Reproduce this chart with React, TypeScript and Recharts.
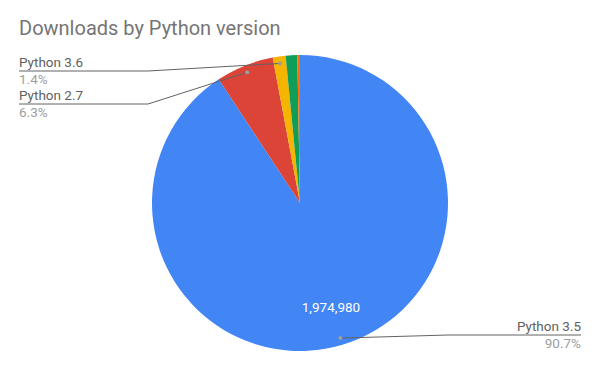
import React from "react"
import { Pie, PieChart } from "recharts"

const VERSIONS = ["Python 3.5", "Python 2.7", "Python 3.6", "Python 3.4", "Python 3.3"]
const DOWNLOADS = [1974980, 137200, 30500, 27400, 6300]
const COLORS = ["#4285f4", "#db4437", "#f4b400", "#0f9d58", "#ff6d00"]

// outside label placement per slice (only the labelled ones)
const LABEL_LAYOUT: Record<number, { side: "left" | "right"; lineY: number }> = {
  0: { side: "right", lineY: 335 },
  1: { side: "left", lineY: 104 },
  2: { side: "left", lineY: 71 },
}

const RADIAN = Math.PI / 180
const FONT = "Roboto, Arial, sans-serif"

const chartData = VERSIONS.map((name, i) => ({
  name,
  value: DOWNLOADS[i],
  fill: COLORS[i],
}))

function SliceLabel(props: any) {
  const { cx, cy, midAngle, outerRadius, index, percent, name, value } = props
  const cos = Math.cos(-midAngle * RADIAN)
  const sin = Math.sin(-midAngle * RADIAN)
  const parts: React.ReactNode[] = []

  if (index === 0) {
    const r = outerRadius * 0.73
    parts.push(
      <text
        key="v"
        x={cx + r * cos}
        y={cy + r * sin}
        fill="#ffffff"
        fontSize={13.5}
        fontFamily={FONT}
        textAnchor="middle"
        dominantBaseline="central"
      >
        {value.toLocaleString("en-US")}
      </text>
    )
  }

  const layout = LABEL_LAYOUT[index]
  if (layout) {
    const dr = outerRadius - 7
    const dx = cx + dr * cos
    const dy = cy + dr * sin
    const left = layout.side === "left"
    const edge = left ? 19 : 581
    const elbow = left ? edge + 129 : edge - 133
    parts.push(
      <g key="o">
        <polyline
          points={`${edge},${layout.lineY} ${elbow},${layout.lineY} ${dx},${dy}`}
          fill="none"
          stroke="#636363"
          strokeWidth={1}
        />
        <circle cx={dx} cy={dy} r={2} fill="#9e9e9e" />
        <text
          x={edge}
          y={layout.lineY - 4}
          fill="#616161"
          fontSize={13.5}
          fontFamily={FONT}
          textAnchor={left ? "start" : "end"}
        >
          {name}
        </text>
        <text
          x={edge}
          y={layout.lineY + 13}
          fill="#9e9e9e"
          fontSize={13.5}
          fontFamily={FONT}
          textAnchor={left ? "start" : "end"}
        >
          {(percent * 100).toFixed(1)}%
        </text>
      </g>
    )
  }

  return <g>{parts}</g>
}

export default function App() {
  return (
    <div
      style={{
        position: "fixed",
        left: 0,
        top: 0,
        width: 600,
        height: 371,
        background: "#ffffff",
      }}
    >
      <PieChart
        width={600}
        height={371}
        margin={{ top: 0, right: 0, bottom: 0, left: 0 }}
      >
        <text x={19} y={35} fill="#757575" fontSize={20} fontFamily={FONT}>
          Downloads by Python version
        </text>
        <Pie
          data={chartData}
          dataKey="value"
          nameKey="name"
          cx={300}
          cy={203}
          outerRadius={148}
          startAngle={90}
          endAngle={-270}
          stroke="none"
          label={SliceLabel}
          labelLine={false}
          isAnimationActive={false}
        />
      </PieChart>
    </div>
  )
}
